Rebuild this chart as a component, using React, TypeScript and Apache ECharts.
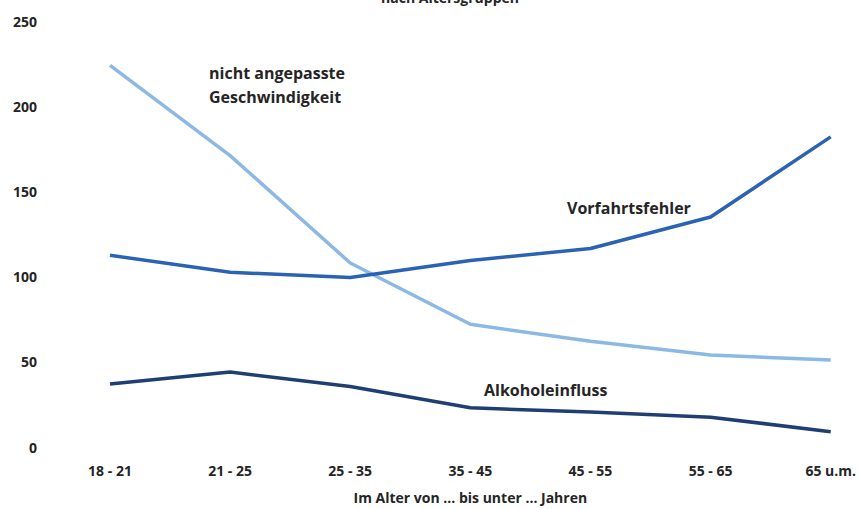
import React, { useEffect, useRef } from "react";
import * as echarts from "echarts";

const categories = ["18 - 21", "21 - 25", "25 - 35", "35 - 45", "45 - 55", "55 - 65", "65 u.m."];
const geschwindigkeit = [224, 171, 108, 72, 62, 54, 51];
const vorfahrt = [112.5, 102.5, 99.5, 109.5, 116.5, 135, 182];
const alkohol = [37, 44, 35.5, 23, 20.5, 17.5, 9];
const yTicks = { min: 0, max: 250, interval: 50 };

const FONT = "'Open Sans', Lato, sans-serif";
const TEXT = "#252525";

export default function App() {
  const ref = useRef<HTMLDivElement>(null);
  useEffect(() => {
    if (!ref.current) return;
    const chart = echarts.init(ref.current, undefined, { renderer: "svg" });
    chart.setOption({
      animation: false,
      backgroundColor: "#ffffff",
      grid: { left: 110, right: 26, top: 21, bottom: 59 },
      xAxis: {
        type: "category",
        data: categories,
        boundaryGap: false,
        axisLine: { show: false },
        axisTick: { show: false },
        axisLabel: { color: TEXT, fontFamily: FONT, fontWeight: "bold", fontSize: 14, margin: 16 },
        name: "Im Alter von ... bis unter ... Jahren",
        nameLocation: "middle",
        nameGap: 43,
        nameTextStyle: { color: TEXT, fontFamily: FONT, fontWeight: "bold", fontSize: 14 },
      },
      yAxis: {
        type: "value",
        min: yTicks.min,
        max: yTicks.max,
        interval: yTicks.interval,
        axisLine: { show: false },
        axisTick: { show: false },
        splitLine: { show: false },
        axisLabel: { color: TEXT, fontFamily: FONT, fontWeight: "bold", fontSize: 14, margin: 73 },
      },
      series: [
        {
          name: "nicht angepasste Geschwindigkeit",
          type: "line",
          data: geschwindigkeit,
          symbol: "none",
          lineStyle: { color: "#8cb8e4", width: 3.5 },
        },
        {
          name: "Vorfahrtsfehler",
          type: "line",
          data: vorfahrt,
          symbol: "none",
          lineStyle: { color: "#2a62b4", width: 3.5 },
        },
        {
          name: "Alkoholeinfluss",
          type: "line",
          data: alkohol,
          symbol: "none",
          lineStyle: { color: "#1f3f74", width: 3.5 },
        },
      ],
      graphic: [
        {
          type: "text",
          x: 450,
          y: -10,
          style: { text: "nach Altersgruppen", fill: TEXT, font: `bold 14px ${FONT}`, textAlign: "center" },
        },
        {
          type: "text",
          x: 209,
          y: 85,
          style: {
            text: "nicht angepasste\nGeschwindigkeit",
            fill: TEXT,
            font: `bold 16px ${FONT}`,
            lineHeight: 24,
            verticalAlign: "middle",
          },
        },
        {
          type: "text",
          x: 567,
          y: 208,
          style: { text: "Vorfahrtsfehler", fill: TEXT, font: `bold 16px ${FONT}`, verticalAlign: "middle" },
        },
        {
          type: "text",
          x: 484,
          y: 390,
          style: { text: "Alkoholeinfluss", fill: TEXT, font: `bold 16px ${FONT}`, verticalAlign: "middle" },
        },
      ],
    });
    return () => chart.dispose();
  }, []);
  return <div ref={ref} style={{ width: 859, height: 509, position: "absolute", left: 0, top: 0 }} />;
}
